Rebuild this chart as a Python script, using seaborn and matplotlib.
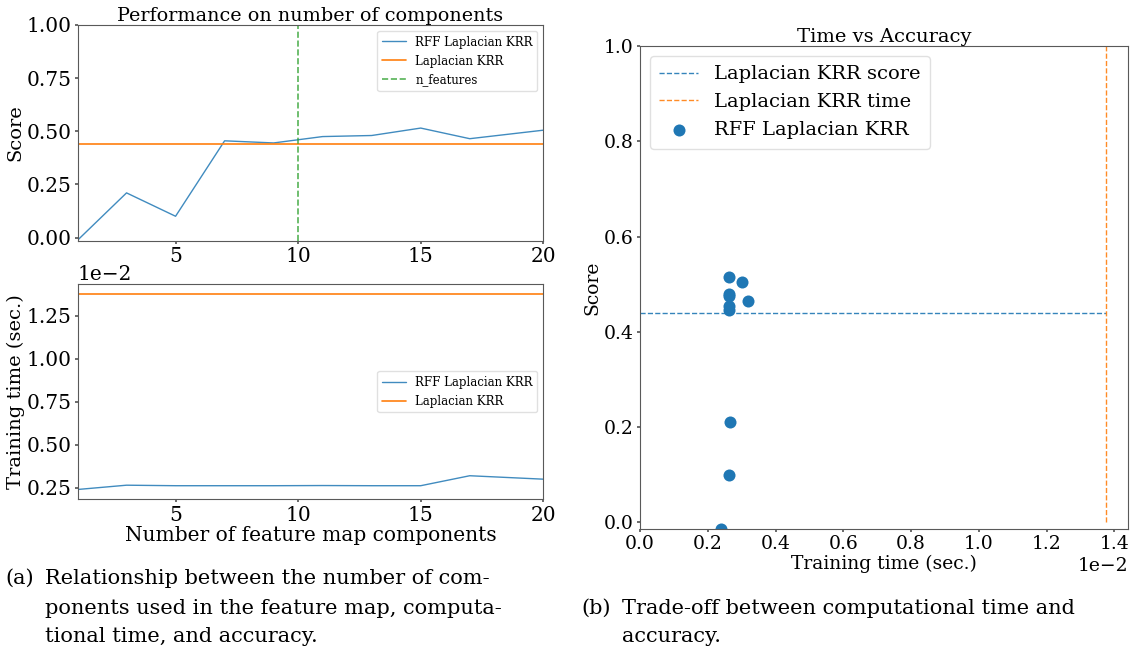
import numpy as np
import pandas as pd
import matplotlib
matplotlib.use("Agg")
import matplotlib.pyplot as plt
import seaborn as sns

# Number of random Fourier feature components tried
n_components = [1, 3, 5, 7, 9, 11, 13, 15, 17, 20]
# Test score of the RFF approximation for each component count
rff_scores = [-0.013, 0.21, 0.10, 0.455, 0.445, 0.475, 0.48, 0.515, 0.465, 0.505]
# Training time (seconds) of the RFF approximation
rff_times = [0.0024, 0.00265, 0.00262, 0.00262, 0.00262, 0.00263, 0.00262, 0.00262, 0.0032, 0.0030]
# Exact Laplacian kernel ridge regression reference values
krr_score = 0.44
krr_time = 0.01375
n_features = 10

df = pd.DataFrame({"n": n_components, "score": rff_scores, "time": rff_times})

sns.set_theme(style="ticks")
plt.rcParams.update({
    "font.family": ["DejaVu Serif"],
    "axes.edgecolor": "0.35",
    "axes.linewidth": 0.8,
    "xtick.color": "0.35",
    "ytick.color": "0.35",
    "xtick.labelcolor": "black",
    "ytick.labelcolor": "black",
    "axes.labelcolor": "black",
    "text.color": "black",
    "xtick.major.size": 2.5,
    "ytick.major.size": 2.5,
    "xtick.major.pad": 2.0,
    "ytick.major.pad": 2.0,
    "legend.edgecolor": "0.85",
})

blue, orange, green = "#1f77b4", "#ff7f0e", "#2ca02c"

fig = plt.figure(figsize=(11.31, 6.55), dpi=100)
W, H = 1131, 655


def box(l, t, r, b):
    return [l / W, 1 - b / H, (r - l) / W, (b - t) / H]


ax1 = fig.add_axes(box(77.5, 25, 543.3, 240.7))
ax2 = fig.add_axes(box(77.5, 284.3, 543.3, 499.3))
ax3 = fig.add_axes(box(640, 46, 1128, 529))

# --- score vs number of components ---
sns.lineplot(data=df, x="n", y="score", ax=ax1, color=blue, lw=1, alpha=0.85,
             label="RFF Laplacian KRR")
ax1.axhline(krr_score, color=orange, lw=1.2, label="Laplacian KRR")
ax1.axvline(n_features, color=green, lw=1.2, ls="--", alpha=0.8, label="n_features")
ax1.set_xlim(1, 20)
ax1.set_ylim(-0.015, 1.0)
ax1.set_yticks([0.0, 0.25, 0.5, 0.75, 1.0])
ax1.set_xticks([5, 10, 15, 20])
ax1.set_title("Performance on number of components", fontsize=13.8, pad=2)
ax1.set_xlabel("")
ax1.set_ylabel("Score", fontsize=14, labelpad=1)
ax1.tick_params(labelsize=14.5)
ax1.legend(loc="upper right", fontsize=8.5, framealpha=0.8, fancybox=True)

# --- training time vs number of components ---
sns.lineplot(data=df, x="n", y="time", ax=ax2, color=blue, lw=1, alpha=0.85,
             label="RFF Laplacian KRR")
ax2.axhline(krr_time, color=orange, lw=1.2, label="Laplacian KRR")
ax2.set_xlim(1, 20)
ax2.set_ylim(0.00183, 0.01433)
ax2.set_xticks([5, 10, 15, 20])
ax2.ticklabel_format(axis="y", style="sci", scilimits=(0, 0))
ax2.yaxis.get_offset_text().set_fontsize(14.5)
ax2.set_xlabel("Number of feature map components", fontsize=14.5, labelpad=1)
ax2.set_ylabel("Training time (sec.)", fontsize=14, labelpad=1)
ax2.tick_params(labelsize=14.5)
ax2.legend(loc="center right", fontsize=8.5, framealpha=0.8, fancybox=True)

# --- time vs accuracy trade-off ---
ax3.hlines(krr_score, 0, krr_time, colors=blue, lw=1, linestyles="--", alpha=0.9,
           label="Laplacian KRR score")
ax3.vlines(krr_time, 0, 1, colors=orange, lw=1, linestyles="--", alpha=0.9,
           label="Laplacian KRR time")
sns.scatterplot(data=df, x="time", y="score", ax=ax3, color=blue, s=75, linewidth=0,
                label="RFF Laplacian KRR")
ax3.set_xlim(0, 0.0144)
ax3.set_ylim(-0.014, 1.0)
ax3.set_xticks(np.arange(0, 0.0141, 0.002))
ax3.set_yticks([0.0, 0.2, 0.4, 0.6, 0.8, 1.0])
ax3.ticklabel_format(axis="x", style="sci", scilimits=(0, 0))
ax3.xaxis.get_offset_text().set_fontsize(13.5)
ax3.set_title("Time vs Accuracy", fontsize=14, pad=2)
ax3.set_xlabel("Training time (sec.)", fontsize=13.5, labelpad=1)
ax3.set_ylabel("Score", fontsize=13.5, labelpad=2)
ax3.tick_params(labelsize=13.5)
ax3.legend(loc="upper left", fontsize=14, framealpha=0.8, fancybox=True,
           handlelength=2.0, borderpad=0.5)

# --- sub-figure captions ---
cap = dict(fontsize=15, family="DejaVu Serif", va="center", ha="left")
fig.text(5 / W, 1 - 578 / H, "(a)", **cap)
fig.text(45 / W, 1 - 578 / H, "Relationship between the number of com-", **cap)
fig.text(45 / W, 1 - 608 / H, "ponents used in the feature map, computa-", **cap)
fig.text(45 / W, 1 - 637 / H, "tional time, and accuracy.", **cap)
fig.text(581 / W, 1 - 608 / H, "(b)", **cap)
fig.text(622 / W, 1 - 608 / H, "Trade-off between computational time and", **cap)
fig.text(622 / W, 1 - 637 / H, "accuracy.", **cap)

fig.savefig("out.png", dpi=100)
